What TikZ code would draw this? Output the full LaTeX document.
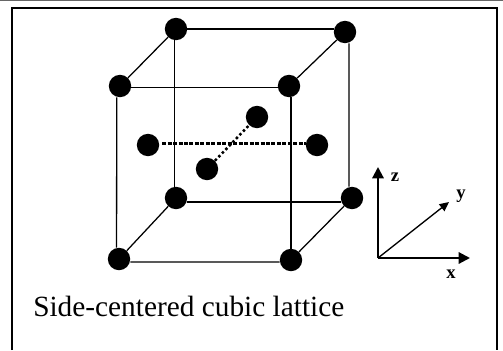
\documentclass[tikz,border=0pt]{standalone}
\usepackage{fontspec}
\setmainfont{Liberation Serif}
\usepackage{tikz}
\usetikzlibrary{arrows.meta}
\tikzset{
    atom/.style={circle, fill=black, inner sep=0pt, minimum size=16.8pt},
    edge/.style={line width=0.95pt},
    link/.style={line width=2.4pt, dash pattern=on 3pt off 1.1pt},
    diaglink/.style={line width=1.9pt, dash pattern=on 1.9pt off 1.9pt},
    axislabel/.style={font=\bfseries\fontsize{14}{14}\selectfont, inner sep=0pt}
}
\begin{document}
\begin{tikzpicture}[x=0.75pt, y=-0.75pt]
    \useasboundingbox (0,0) rectangle (503,350);
    \draw[line width=0.75pt, black!60] (0,0.5) -- (503,0.5);
    \draw[line width=1.8pt] (12,350) -- (12,8) -- (497,8) -- (497,350);
    \node[atom] (BTL) at (176,29) {}; \node[atom] (BTR) at (345,32) {};
    \node[atom] (FTL) at (120,86) {}; \node[atom] (FTR) at (289,86) {};
    \node[atom] (BBL) at (176,198) {}; \node[atom] (BBR) at (352,198) {};
    \node[atom] (FBL) at (119,259) {}; \node[atom] (FBR) at (291,260) {};
    \node[atom] (SL) at (148,145) {}; \node[atom] (SR) at (317,145) {};
    \node[atom] (SF) at (207,169) {}; \node[atom] (SB) at (257,117) {};
    \draw[edge] (BTL) -- (FTL); \draw[edge] (BTR) -- (FTR);
    \draw[edge] (BBL) -- (FBL); \draw[edge] (BBR) -- (FBR);
    \draw[edge] (BTL.east) -- (BTR.west |- BTL.east);
    \draw[edge] ([yshift=-1pt]FTL.east) -- ([yshift=-1pt]FTR.west);
    \draw[edge] ([yshift=-3pt]BBL.east) -- ([yshift=-3pt]BBR.west);
    \draw[edge] ([yshift=-2.2pt]FBL.east) -- ([yshift=-1.5pt]FBR.west);
    \draw[edge] ([xshift=-1pt]BTL.south) -- ([xshift=-1pt]BBL.north);
    \draw[edge] ([xshift=-2.5pt]FTL.south) -- ([xshift=-1.8pt]FBL.north);
    \draw[edge] ([xshift=1.5pt]FTR.south) -- (FBR.north);
    \draw[edge] ([xshift=3pt]BTR.south) -- ([xshift=-2.2pt]BBR.north);
    \draw[link] ([xshift=2pt,yshift=1pt]SL.east) -- ([yshift=1pt]SR.west);
    \draw[diaglink] (SF) -- (SB);
    \coordinate (O) at (378,258);
    \coordinate (Xend) at (470,258); \coordinate (Yend) at (449,202); \coordinate (Zend) at (378,167);
    \draw[line width=1.6pt, -{Triangle[length=8.5pt,width=8.5pt]}] (O) -- (Xend);
    \draw[line width=1.6pt, -{Triangle[length=8.5pt,width=8.5pt]}] (O) -- (Zend);
    \draw[line width=1pt, -{Triangle[length=7pt,width=6.5pt]}] (O) -- (Yend);
    \node[axislabel] (xlabel) at (451,274) {x};
    \node[axislabel] (ylabel) at (461,196) {y};
    \node[axislabel] (zlabel) at (395,177) {z};
    \node[anchor=base west, inner sep=0pt, font=\fontsize{22}{22}\selectfont] (caption) at (33,316) {Side-centered cubic lattice};
\end{tikzpicture}
\end{document}
